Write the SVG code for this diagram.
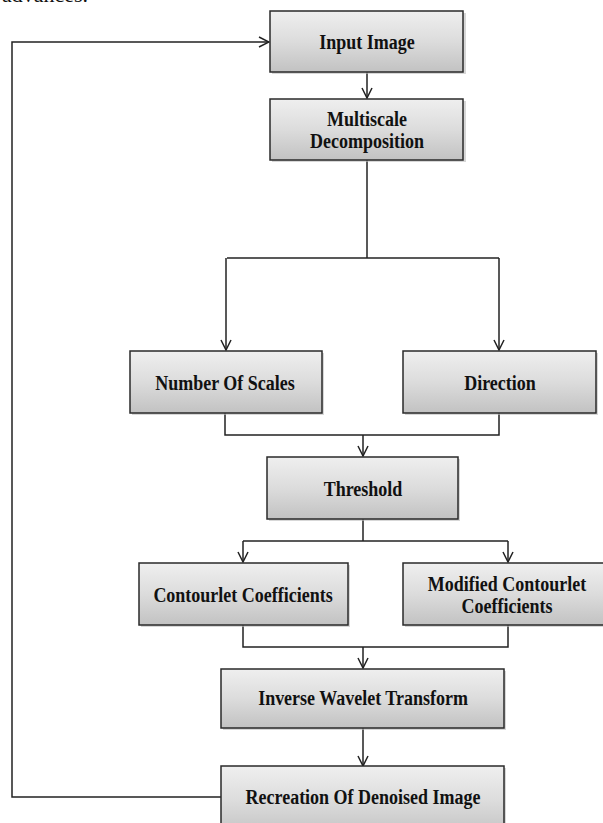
<svg xmlns="http://www.w3.org/2000/svg" width="603" height="823" viewBox="0 0 603 823">
<defs>
<linearGradient id="g" x1="0" y1="0" x2="0" y2="1">
<stop offset="0" stop-color="#efefef"/>
<stop offset="0.5" stop-color="#dcdcdc"/>
<stop offset="1" stop-color="#c2c2c2"/>
</linearGradient>
<marker id="arr" viewBox="0 0 12 12" refX="11" refY="6" markerWidth="12" markerHeight="12" markerUnits="userSpaceOnUse" orient="auto">
<path d="M1,1 L11,6 L1,11" fill="none" stroke="#222" stroke-width="1.5"/>
</marker>
</defs>
<style>
.box{fill:url(#g);stroke:#2a2a2a;stroke-width:1.5}
.sh{fill:#bdbdbd;opacity:0.6}
.t{font-family:"Liberation Serif","Times New Roman",serif;font-weight:bold;font-size:18px;fill:#111;text-anchor:middle}
.c{fill:none;stroke:#222;stroke-width:1.5}
</style>
<rect width="603" height="823" fill="#ffffff"/>
<text x="2" y="2" font-family="Liberation Serif, serif" font-size="22" fill="#111">advances.</text>

<g id="connectors">
<path class="c" d="M221,797 H12 V42 H269" marker-end="url(#arr)"/>
<path class="c" d="M367,72 V98" marker-end="url(#arr)"/>
<path class="c" d="M367,160 V258"/>
<path class="c" d="M227,258 H499"/>
<path class="c" d="M226,258 V350" marker-end="url(#arr)"/>
<path class="c" d="M499,258 V350" marker-end="url(#arr)"/>
<path class="c" d="M225,413 V435 H499 V413"/>
<path class="c" d="M363,435 V456" marker-end="url(#arr)"/>
<path class="c" d="M363,519 V541"/>
<path class="c" d="M243,541 H508"/>
<path class="c" d="M243,541 V562" marker-end="url(#arr)"/>
<path class="c" d="M508,541 V562" marker-end="url(#arr)"/>
<path class="c" d="M243,625 V647 H508 V625"/>
<path class="c" d="M363,647 V668" marker-end="url(#arr)"/>
<path class="c" d="M363,728 V766" marker-end="url(#arr)"/>
</g>

<g id="input">
<rect class="sh" x="272" y="13" width="194" height="61"/>
<rect class="box" x="270" y="11" width="193" height="61"/>
<text class="t" transform="translate(367,49) scale(1,1.15)">Input Image</text>
</g>
<g id="multiscale">
<rect class="sh" x="272" y="101" width="194" height="61"/>
<rect class="box" x="270" y="99" width="193" height="61"/>
<text class="t" transform="translate(367,126) scale(1,1.15)">Multiscale</text>
<text class="t" transform="translate(367,148) scale(1,1.15)">Decomposition</text>
</g>
<g id="scales">
<rect class="sh" x="132" y="353" width="192" height="62"/>
<rect class="box" x="130" y="351" width="192" height="62"/>
<text class="t" transform="translate(225,390) scale(1,1.15)">Number Of Scales</text>
</g>
<g id="direction">
<rect class="sh" x="405" y="353" width="193" height="62"/>
<rect class="box" x="403" y="351" width="193" height="62"/>
<text class="t" transform="translate(500,390) scale(1,1.15)">Direction</text>
</g>
<g id="threshold">
<rect class="sh" x="269" y="459" width="191" height="62"/>
<rect class="box" x="267" y="457" width="191" height="62"/>
<text class="t" transform="translate(363,496) scale(1,1.15)">Threshold</text>
</g>
<g id="contourlet">
<rect class="sh" x="141" y="565" width="209" height="62"/>
<rect class="box" x="139" y="563" width="209" height="62"/>
<text class="t" transform="translate(243,602) scale(1,1.15)">Contourlet  Coefficients</text>
</g>
<g id="modified">
<rect class="sh" x="405" y="565" width="210" height="62"/>
<rect class="box" x="403" y="563" width="210" height="62"/>
<text class="t" transform="translate(507,591) scale(1,1.15)">Modified Contourlet</text>
<text class="t" transform="translate(507,613) scale(1,1.15)">Coefficients</text>
</g>
<g id="inverse">
<rect class="sh" x="223" y="671" width="283" height="59"/>
<rect class="box" x="221" y="669" width="283" height="59"/>
<text class="t" transform="translate(363,705) scale(1,1.15)">Inverse Wavelet  Transform</text>
</g>
<g id="recreation">
<rect class="sh" x="223" y="768" width="283" height="70"/>
<rect class="box" x="221" y="766" width="283" height="70"/>
<text class="t" transform="translate(363,804) scale(1,1.15)">Recreation  Of Denoised Image</text>
</g>
</svg>
